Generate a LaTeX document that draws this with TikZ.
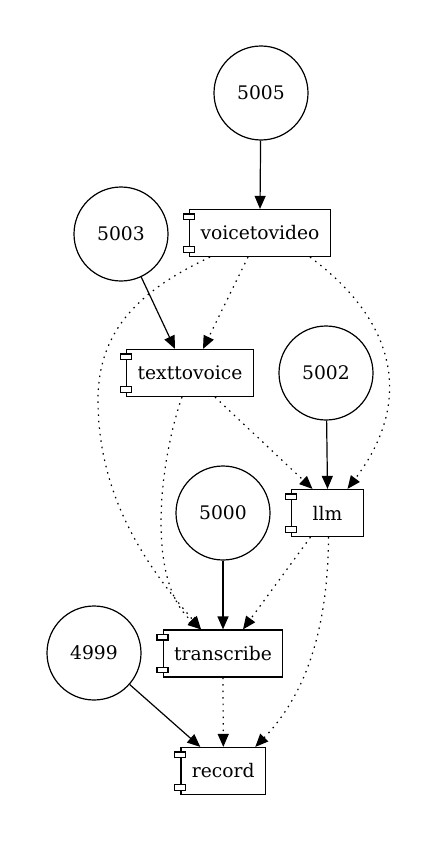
\documentclass[tikz,border=0pt]{standalone}
\usepackage{fontspec}
\setmainfont{DejaVu Serif}
\usetikzlibrary{arrows.meta, calc}

\begin{document}
\begin{tikzpicture}[x=1pt, y=-1pt, >={Triangle[length=13pt,width=11pt]}, line width=1.2pt,
  port/.style={draw,circle,minimum size=94pt,inner sep=0pt,font=\fontsize{18.7}{22}\selectfont},
  comp/.style={draw,rectangle,minimum height=47pt,minimum width=72pt,inner xsep=11pt,font=\fontsize{18.7}{22}\selectfont},
  dep/.style={->, dash pattern=on 1.5pt off 5pt}]
  \useasboundingbox (0,0) rectangle (441,843);
  % ports
  \node[port] (p5005) at (261,93) {5005};
  \node[port] (p5003) at (121,234) {5003};
  \node[port] (p5002) at (326,373) {5002};
  \node[port] (p5000) at (223,513) {5000};
  \node[port] (p4999) at (94,653) {4999};
  % services
  \node[comp] (voicetovideo) at (260,233) {voicetovideo};
  \node[comp] (texttovoice) at (190,373) {texttovoice};
  \node[comp] (llm) at (327.5,513) {llm};
  \node[comp] (transcribe) at (223,653.5) {transcribe};
  \node[comp] (record) at (223.3,771) {record};
  \foreach \n in {voicetovideo,texttovoice,llm,transcribe,record} {
    \draw[fill=white] ([xshift=-5.5pt,yshift=-5pt]\n.north west) rectangle ([xshift=5.5pt,yshift=-10.5pt]\n.north west);
    \draw[fill=white] ([xshift=-5.5pt,yshift=5pt]\n.south west) rectangle ([xshift=5.5pt,yshift=10.5pt]\n.south west);
  }
  % ports to services
  \draw[->] (p5005) -- (voicetovideo.north);
  \draw[->] (p5003) -- ([xshift=-15pt]texttovoice.north);
  \draw[->] (p5002) -- (llm.north);
  \draw[->] (p5000) -- (transcribe.north);
  \draw[->] (p4999) -- ([xshift=-23pt]record.north);
  % dependencies
  \draw[dep] ([xshift=-12pt]voicetovideo.south) -- ([xshift=13pt]texttovoice.north);
  \draw[dep] ([xshift=50pt]voicetovideo.south) .. controls (395,320) and (415,400) .. ([xshift=20pt]llm.north);
  \draw[dep] ([xshift=-50pt]voicetovideo.south) .. controls (140,290) and (98,330) .. (98,400)
    .. controls (98,500) and (150,570) .. ([xshift=-22pt]transcribe.north);
  \draw[dep] ([xshift=-8pt]texttovoice.south) .. controls (160,460) and (145,580) .. ([xshift=-22pt]transcribe.north);
  \draw[dep] ([xshift=25pt]texttovoice.south) -- ([xshift=-15pt]llm.north);
  \draw[dep] ([xshift=-17pt]llm.south) -- ([xshift=20pt]transcribe.north);
  \draw[dep] ([xshift=1pt]llm.south) .. controls (328,620) and (310,690) .. ([xshift=32pt]record.north);
  \draw[dep] (transcribe.south) -- (record.north);
\end{tikzpicture}
\end{document}
